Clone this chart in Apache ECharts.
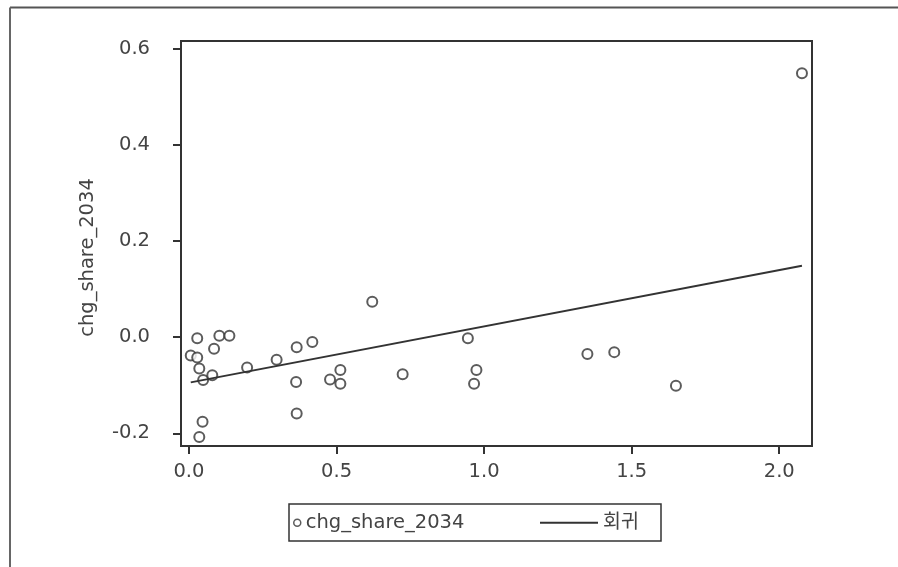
<!DOCTYPE html>
<html>
<head>
<meta charset="utf-8">
<script src="https://cdn.jsdelivr.net/npm/echarts@6/dist/echarts.min.js"></script>
<style>
html,body{margin:0;padding:0;background:#fff;}
#chart{width:898px;height:567px;}
</style>
</head>
<body>
<div id="chart"></div>
<script>
// scatter points (x = predictor, y = chg_share_2034)
var pointX = [0.006, 0.028, 0.028, 0.035, 0.048, 0.079, 0.085, 0.103, 0.137, 0.046, 0.035, 0.197, 0.297, 0.365, 0.418, 0.363, 0.365, 0.478, 0.513, 0.513, 0.621, 0.724, 0.945, 0.974, 0.966, 1.350, 1.441, 1.650, 2.077];
var pointY = [-0.038, -0.002, -0.042, -0.065, -0.089, -0.079, -0.024, 0.003, 0.003, -0.176, -0.208, -0.063, -0.047, -0.021, -0.010, -0.093, -0.159, -0.088, -0.068, -0.097, 0.074, -0.077, -0.002, -0.068, -0.097, -0.035, -0.031, -0.101, 0.550];
// regression line end points
var regX = [0.006, 2.077];
var regY = [-0.094, 0.149];
// tick labels
var xTicks = [0, 0.5, 1.0, 1.5, 2.0];
var yTicks = [-0.2, 0.0, 0.2, 0.4, 0.6];
var seriesName = 'chg_share_2034';
var regName = '회귀';
var yAxisName = 'chg_share_2034';

var FONT = '"DejaVu Sans", "Noto Sans CJK KR", sans-serif';
var INK = '#333';

var scatterData = pointX.map(function (x, i) { return [x, pointY[i]]; });
var regData = regX.map(function (x, i) { return [x, regY[i]]; });

var chart = echarts.init(document.getElementById('chart'), null, {renderer: 'canvas'});
chart.setOption({
  animation: false,
  backgroundColor: '#fff',
  grid: {
    left: 181, top: 41, right: 86, bottom: 121,
    show: true, borderColor: INK, borderWidth: 2, backgroundColor: 'transparent'
  },
  xAxis: {
    type: 'value', min: -0.027, max: 2.111,
    axisLine: {show: false, onZero: false},
    splitLine: {show: false},
    axisTick: {show: true, length: 8, inside: false, customValues: xTicks, lineStyle: {color: INK, width: 2}},
    axisLabel: {
      customValues: xTicks, margin: 16,
      fontFamily: FONT, fontSize: 19.5, color: '#444',
      formatter: function (v) { return v.toFixed(1); }
    }
  },
  yAxis: {
    type: 'value', min: -0.2265, max: 0.617,
    name: yAxisName, nameLocation: 'middle', nameGap: 83,
    nameTextStyle: {fontFamily: FONT, fontSize: 19.5, color: '#444', padding: [0, 28, 0, 0]},
    axisLine: {show: false, onZero: false},
    splitLine: {show: false},
    axisTick: {show: true, length: 8, inside: false, customValues: yTicks, lineStyle: {color: INK, width: 2}},
    axisLabel: {
      customValues: yTicks, margin: 31,
      fontFamily: FONT, fontSize: 19.5, color: '#444',
      formatter: function (v) { return v.toFixed(1); }
    }
  },
  legend: [
    {
      data: [{name: seriesName, icon: 'circle', itemStyle: {color: '#fff', borderColor: INK, borderWidth: 1.5}}],
      left: 293, top: 513, padding: 0, itemWidth: 7, itemHeight: 7,
      selectedMode: false,
      textStyle: {fontFamily: FONT, fontSize: 19.5, color: '#444'}
    },
    {
      data: [{name: regName, icon: 'rect', itemStyle: {color: INK, borderWidth: 0}}],
      left: 540, top: 513, padding: 0, itemWidth: 58, itemHeight: 2,
      selectedMode: false,
      textStyle: {fontFamily: FONT, fontSize: 19.5, color: '#444'}
    }
  ],
  graphic: [
    {type: 'rect', shape: {x: 289, y: 504, width: 372, height: 37}, style: {fill: 'none', stroke: INK, lineWidth: 1.5}, silent: true},
    {type: 'line', shape: {x1: 10, y1: 7.5, x2: 898, y2: 7.5}, style: {stroke: '#555', lineWidth: 2}, silent: true},
    {type: 'line', shape: {x1: 10, y1: 7.5, x2: 10, y2: 567}, style: {stroke: '#666', lineWidth: 2}, silent: true}
  ],
  series: [
    {
      name: seriesName, type: 'scatter', data: scatterData,
      symbol: 'circle', symbolSize: 10,
      itemStyle: {color: '#fff', borderColor: INK, borderWidth: 2}
    },
    {
      name: regName, type: 'line', data: regData,
      symbol: 'none', lineStyle: {color: INK, width: 2}
    }
  ]
});
</script>
</body>
</html>
